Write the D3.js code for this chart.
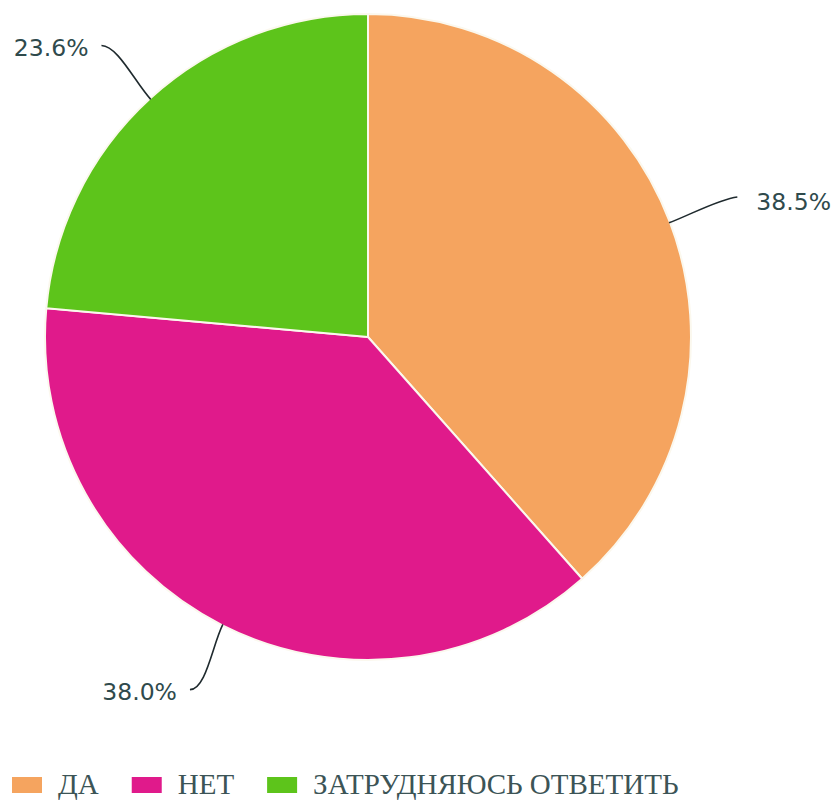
<!DOCTYPE html>
<html>
<head>
<meta charset="utf-8">
<script src="https://cdn.jsdelivr.net/npm/d3@7"></script>
<style>
  html, body { margin: 0; padding: 0; background: #fff; }
  svg { display: block; }
</style>
</head>
<body>
<svg id="chart" width="837" height="800"></svg>
<script>
const categories = ["ДА", "НЕТ", "ЗАТРУДНЯЮСЬ ОТВЕТИТЬ"];
const values = [38.5, 38.0, 23.6];
const labels = ["38.5%", "38.0%", "23.6%"];
const colors = ["#F5A45F", "#E01A8B", "#5DC41B"];

const svg = d3.select("#chart");
const cx = 368, cy = 337, R = 323, labelR = 395;

const pie = d3.pie().sort(null).value(d => d)(values);
const arc = d3.arc().innerRadius(0).outerRadius(R);

const g = svg.append("g").attr("transform", `translate(${cx},${cy})`);

g.selectAll("path.slice")
  .data(pie)
  .join("path")
  .attr("class", "slice")
  .attr("d", arc)
  .attr("fill", (d, i) => colors[i])
  .attr("stroke", "#fbf8ee")
  .attr("stroke-width", 2);

function pt(angle, r) {
  return [r * Math.sin(angle), -r * Math.cos(angle)];
}

pie.forEach((d, i) => {
  const mid = (d.startAngle + d.endAngle) / 2;
  const s = pt(mid, R - 1);
  const c1 = pt(mid, R + 22);
  const e = pt(mid, labelR);
  const right = Math.sin(mid) >= 0;
  const c2 = [e[0] + (right ? -18 : 16), e[1] + (right ? 2 : 0)];
  g.append("path")
    .attr("d", `M${s[0]},${s[1]} C${c1[0]},${c1[1]} ${c2[0]},${c2[1]} ${e[0]},${e[1]}`)
    .attr("fill", "none")
    .attr("stroke", "#1f2a2e")
    .attr("stroke-width", 1.6);
  g.append("text")
    .attr("x", e[0] + (right ? 19 : -13))
    .attr("y", e[1] + (right ? 5 : 2))
    .attr("dy", "0.35em")
    .attr("text-anchor", right ? "start" : "end")
    .attr("font-family", "'DejaVu Sans', sans-serif")
    .attr("font-size", 23.5)
    .attr("fill", "#2f4a4c")
    .text(labels[i]);
});

// Legend
const legend = svg.append("g");
let x = 12;
const ly = 777;
categories.forEach((c, i) => {
  legend.append("rect")
    .attr("x", x).attr("y", ly)
    .attr("width", 30).attr("height", 16)
    .attr("fill", colors[i]);
  const t = legend.append("text")
    .attr("x", x + 46)
    .attr("y", ly + 17)
    .attr("font-family", "'Liberation Serif', 'Times New Roman', serif")
    .attr("font-size", 29)
    .attr("fill", "#3c5456")
    .text(c);
  x = x + 46 + t.node().getComputedTextLength() + 33;
});
</script>
</body>
</html>
